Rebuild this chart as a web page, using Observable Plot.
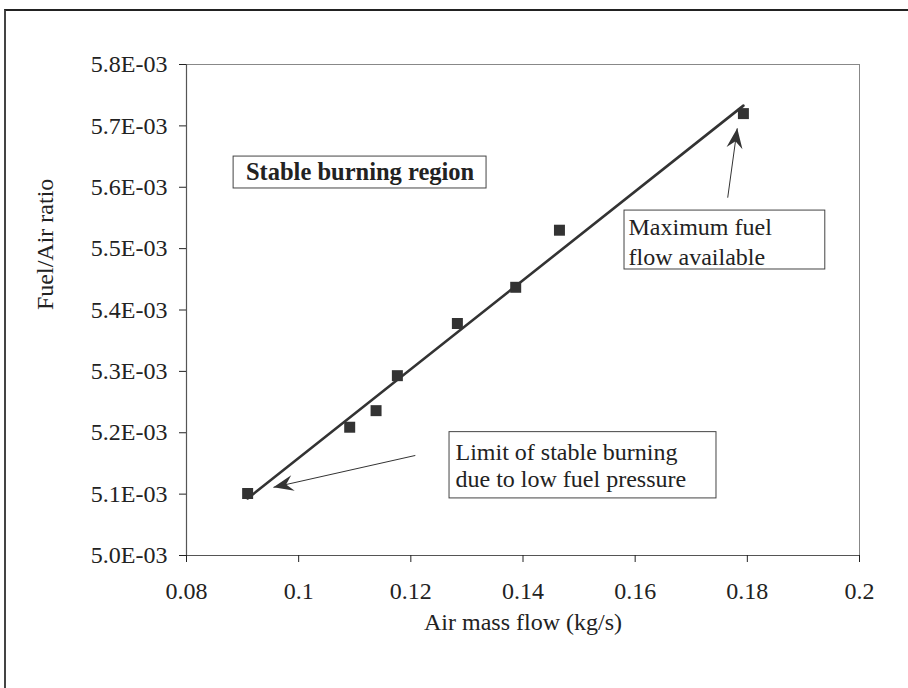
<!DOCTYPE html>
<html>
<head>
<meta charset="utf-8">
<script src="https://cdn.jsdelivr.net/npm/d3@7"></script>
<script src="https://cdn.jsdelivr.net/npm/@observablehq/plot@0.6"></script>
<style>
  html, body { margin: 0; padding: 0; background: #fff; overflow: hidden; }
  #wrap { position: relative; width: 908px; height: 688px; overflow: hidden; }
  #border { position: absolute; left: 4px; top: 9px; width: 1000px; height: 1000px;
            border-left: 2px solid #444; border-top: 2px solid #222; pointer-events: none; }
</style>
</head>
<body>
<div id="wrap"><div id="chart"></div><div id="border"></div></div>
<script>
// ---- data ----
const airFlow = [0.0909, 0.1091, 0.1138, 0.1176, 0.1283, 0.1387, 0.1465, 0.1793];
const fuelAir = [0.005101, 0.005209, 0.005236, 0.005293, 0.005378, 0.005437, 0.005530, 0.005720];

const trendX = [0.0909, 0.1793];
const trendY = [0.005093, 0.005733];

const xTicks = [0.08, 0.1, 0.12, 0.14, 0.16, 0.18, 0.2];
const xTickLabels = ["0.08", "0.1", "0.12", "0.14", "0.16", "0.18", "0.2"];
const yTicks = [0.0050, 0.0051, 0.0052, 0.0053, 0.0054, 0.0055, 0.0056, 0.0057, 0.0058];
const yTickLabels = ["5.0E-03", "5.1E-03", "5.2E-03", "5.3E-03", "5.4E-03", "5.5E-03", "5.6E-03", "5.7E-03", "5.8E-03"];

const xLabel = "Air mass flow (kg/s)";
const yLabel = "Fuel/Air ratio";

// annotation boxes (data coordinates)
const boxText = ["Stable burning region", "Limit of stable burning\ndue to low fuel pressure", "Maximum fuel\nflow available"];
const boxX1 = [0.0884, 0.1269, 0.1581];
const boxX2 = [0.1335, 0.1745, 0.1939];
const boxYTop = [0.005650, 0.005201, 0.005562];
const boxYBottom = [0.005598, 0.005093, 0.005466];

// annotation arrows (tail -> head)
const arrowX1 = [0.1208, 0.1765];
const arrowY1 = [0.005163, 0.005583];
const arrowX2 = [0.0955, 0.1782];
const arrowY2 = [0.005111, 0.005696];

// ---- build tables ----
const points = airFlow.map((x, i) => ({x, y: fuelAir[i]}));
const trend = trendX.map((x, i) => ({x, y: trendY[i]}));
const boxes = boxText.map((t, i) => ({t, x1: boxX1[i], x2: boxX2[i], y1: boxYTop[i], y2: boxYBottom[i]}));
const arrows = arrowX1.map((x1, i) => ({x1, y1: arrowY1[i], x2: arrowX2[i], y2: arrowY2[i]}));

function stealth(color, context) {
  const m = d3.create("svg:marker")
    .attr("viewBox", "-21 -10 22 20")
    .attr("markerWidth", 22)
    .attr("markerHeight", 20)
    .attr("markerUnits", "userSpaceOnUse")
    .attr("orient", "auto")
    .attr("fill", color)
    .attr("stroke", "none");
  m.append("path").attr("d", "M0,0 L-20,-8 L-13,0 L-20,8 Z");
  return m.node();
}

const font = "'Liberation Serif', 'Times New Roman', Times, serif";
const ink = "#222";

const chart = Plot.plot({
  width: 908,
  height: 688,
  marginLeft: 186,
  marginRight: 49,
  marginTop: 64,
  marginBottom: 133,
  style: {fontFamily: font, fontSize: "24px", color: ink, background: "white", overflow: "visible"},
  x: {domain: [0.08, 0.2]},
  y: {domain: [0.005, 0.0058]},
  marks: [
    Plot.ruleY([0.0058], {stroke: "#888", strokeWidth: 1}),
    Plot.ruleX([0.2], {stroke: "#888", strokeWidth: 1}),
    Plot.ruleX([0.08], {stroke: "#555", strokeWidth: 1.2}),
    Plot.ruleY([0.005], {stroke: "#555", strokeWidth: 1.2}),
    Plot.axisX({ticks: xTicks, tickSize: 7, tickPadding: 19, tickFormat: d => xTickLabels[xTicks.indexOf(d)],
      label: null, fontSize: 24, stroke: ink, fill: ink}),
    Plot.axisY({ticks: yTicks, tickSize: 7, tickPadding: 12, tickFormat: d => yTickLabels[yTicks.indexOf(d)],
      label: null, fontSize: 24, stroke: ink, fill: ink}),
    Plot.text([xLabel], {frameAnchor: "bottom", dy: 74, text: d => d, fontSize: 24, fill: ink}),
    Plot.text([yLabel], {frameAnchor: "left", dx: -141, rotate: -90, text: d => d, fontSize: 24, fill: ink}),
    Plot.line(trend, {x: "x", y: "y", stroke: "#333", strokeWidth: 2.6}),
    Plot.dot(points, {x: "x", y: "y", symbol: "square", r: 6.2, fill: "#333", stroke: "none"}),
    Plot.rect(boxes, {x1: "x1", x2: "x2", y1: "y1", y2: "y2", fill: "white", stroke: "#444", strokeWidth: 1}),
    Plot.text(boxes.slice(0, 1), {x: d => (d.x1 + d.x2) / 2, y: d => (d.y1 + d.y2) / 2, text: "t",
      fontWeight: "bold", fontSize: 24.5, fill: ink}),
    Plot.text(boxes.slice(1, 2), {x: "x1", y: "y1", text: "t", textAnchor: "start", lineAnchor: "top",
      dx: 6, dy: 8, lineHeight: 1.14, fontSize: 24, fill: ink}),
    Plot.text(boxes.slice(2, 3), {x: "x1", y: "y1", text: "t", textAnchor: "start", lineAnchor: "top",
      dx: 4, dy: 3, lineHeight: 1.25, fontSize: 24, fill: ink}),
    Plot.link(arrows, {x1: "x1", y1: "y1", x2: "x2", y2: "y2", stroke: "#333", strokeWidth: 1, markerEnd: stealth})
  ]
});
document.getElementById("chart").appendChild(chart);
</script>
</body>
</html>
